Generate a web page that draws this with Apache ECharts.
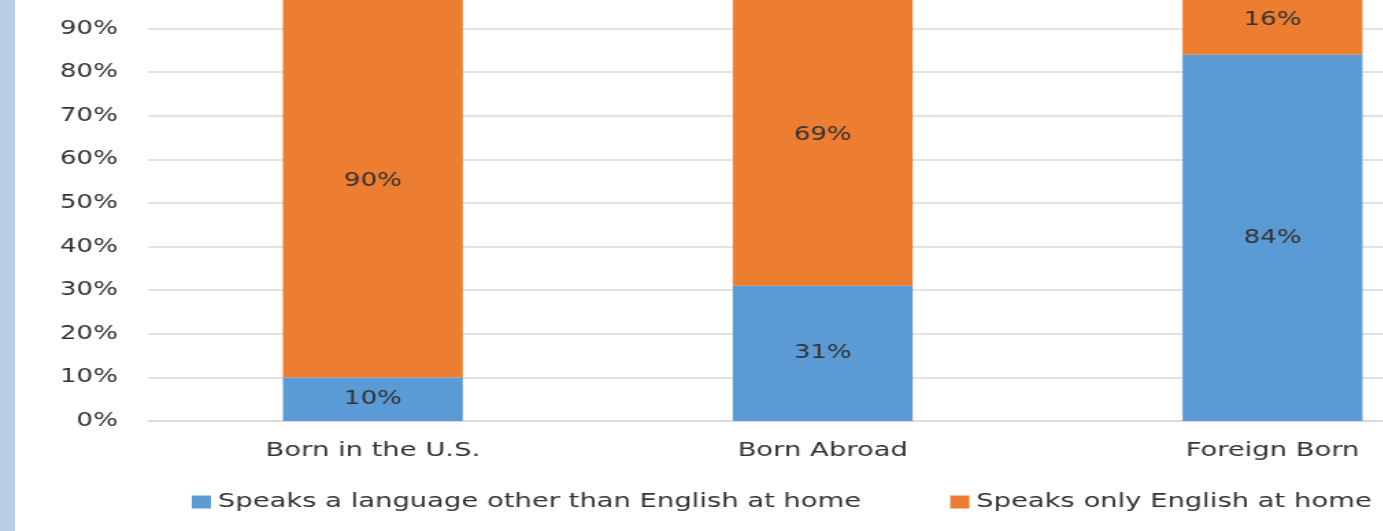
<!DOCTYPE html>
<html>
<head>
<meta charset="utf-8">
<title>Language spoken at home</title>
<script src="https://cdn.jsdelivr.net/npm/echarts@6/dist/echarts.min.js"></script>
<style>
    html, body { margin: 0; padding: 0; width: 1383px; height: 531px; overflow: hidden; background: #fff; }
    #strip { position: absolute; left: 0; top: 0; width: 15px; height: 531px; background: #b9cde5; }
    /* the source picture is stretched sideways, so the chart is too */
    #chart { position: absolute; left: 0; top: -40px; width: 1100px; height: 571px;
             transform: scaleX(1.37); transform-origin: 0 0; }
</style>
</head>
<body>
<div id="chart"></div>
<div id="strip"></div>
<script>
    var categories = ['Born in the U.S.', 'Born Abroad', 'Foreign Born'];
    var otherLanguage = [10, 31, 84];
    var englishOnly = [90, 69, 16];
    var seriesNames = ['Speaks a language other than English at home', 'Speaks only English at home'];

    var textColor = '#333333';
    var font = 'DejaVu Sans';

    var chart = echarts.init(document.getElementById('chart'), null, {renderer: 'canvas'});

    function labelOpt() {
        return {
            show: true,
            position: 'inside',
            color: textColor,
            fontFamily: font,
            fontSize: 19,
            formatter: '{c}%'
        };
    }

    chart.setOption({
        animation: false,
        textStyle: {fontFamily: font},
        grid: {left: 108, right: 7, top: 25, bottom: 110, containLabel: false},
        legend: {
            left: 135,
            top: 527,
            itemWidth: 14,
            itemHeight: 13,
            itemGap: 65,
            icon: 'rect',
            textStyle: {color: textColor, fontSize: 20, fontFamily: font},
            data: seriesNames
        },
        xAxis: {
            type: 'category',
            data: categories,
            axisTick: {show: false},
            axisLine: {lineStyle: {color: '#d9d9d9', width: 1.5}},
            axisLabel: {color: textColor, fontSize: 20, fontFamily: font, margin: 20}
        },
        yAxis: {
            type: 'value',
            min: 0,
            max: 100,
            interval: 10,
            axisLine: {show: false},
            axisTick: {show: false},
            splitLine: {lineStyle: {color: '#d9d9d9', width: 1.5}},
            axisLabel: {color: textColor, fontSize: 19, fontFamily: font, margin: 22, formatter: '{value}%'}
        },
        series: [
            {
                name: seriesNames[0],
                type: 'bar',
                stack: 'total',
                barWidth: '40%',
                itemStyle: {color: '#5b9bd5'},
                label: labelOpt(),
                data: otherLanguage
            },
            {
                name: seriesNames[1],
                type: 'bar',
                stack: 'total',
                barWidth: '40%',
                itemStyle: {color: '#ed7d31'},
                label: labelOpt(),
                data: englishOnly
            }
        ]
    });
</script>
</body>
</html>
